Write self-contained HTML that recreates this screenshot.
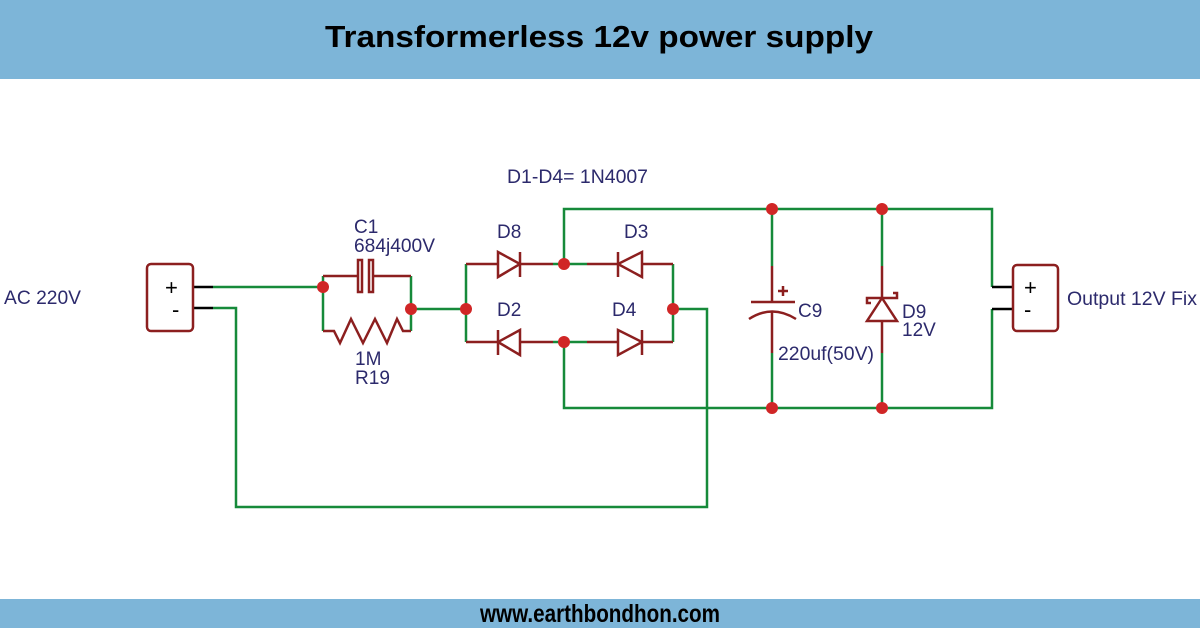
<!DOCTYPE html>
<html>
<head>
<meta charset="utf-8">
<style>
  html,body{margin:0;padding:0;background:#fff;}
  body{width:1200px;height:628px;overflow:hidden;}
  svg{display:block;}
  .lbl{font-family:"Liberation Sans",Arial,sans-serif;font-size:19px;fill:#2c2a6c;}
</style>
</head>
<body>
<svg width="1200" height="628" viewBox="0 0 1200 628" xmlns="http://www.w3.org/2000/svg">
  <!-- header / footer -->
  <rect x="0" y="0" width="1200" height="79" fill="#7db5d8"/>
  <rect x="0" y="599" width="1200" height="29" fill="#7db5d8"/>
  <text x="325" y="47" font-family="Liberation Sans, Arial, sans-serif" font-weight="bold" font-size="31" fill="#000" textLength="548" lengthAdjust="spacingAndGlyphs">Transformerless 12v power supply</text>
  <text x="480" y="622" font-family="Liberation Sans, Arial, sans-serif" font-weight="bold" font-size="25" fill="#000" textLength="240" lengthAdjust="spacingAndGlyphs">www.earthbondhon.com</text>

  <!-- green wires -->
  <g fill="none" stroke="#168a3a" stroke-width="2.5">
    <polyline points="213,287 323,287"/>
    <polyline points="213,308 236,308 236,507 707,507 707,309 673,309"/>
    <polyline points="323,276 323,331"/>
    <polyline points="411,276 411,331"/>
    <polyline points="411,309 466,309"/>
    <polyline points="466,264 466,342"/>
    <polyline points="553,264 587,264"/>
    <polyline points="553,342 587,342"/>
    <polyline points="673,264 673,342"/>
    <polyline points="564,264 564,209 992,209 992,287"/>
    <polyline points="564,342 564,408 992,408 992,309"/>
    <polyline points="772,209 772,266"/>
    <polyline points="772,353 772,408"/>
    <polyline points="882,209 882,266"/>
    <polyline points="882,353 882,408"/>
  </g>

  <!-- black leads -->
  <g stroke="#000" stroke-width="2.5">
    <line x1="193" y1="287" x2="213" y2="287"/>
    <line x1="193" y1="308" x2="213" y2="308"/>
    <line x1="992" y1="287" x2="1013" y2="287"/>
    <line x1="992" y1="309" x2="1013" y2="309"/>
  </g>

  <!-- connector boxes -->
  <g fill="none" stroke="#8c1f1f" stroke-width="2.5">
    <rect x="147" y="264" width="46" height="67" rx="4"/>
    <rect x="1013" y="265" width="45" height="66" rx="4"/>
  </g>
  <g font-family="Liberation Sans, Arial, sans-serif" font-size="22" fill="#000">
    <text x="165" y="295">+</text>
    <text x="172" y="317">-</text>
    <text x="1024" y="295">+</text>
    <text x="1024" y="317">-</text>
  </g>

  <!-- component parts (red) -->
  <g fill="none" stroke="#8c1f1f" stroke-width="2.5">
    <!-- C1 -->
    <polyline points="323,276 358,276"/>
    <polyline points="374,276 411,276"/>
    <rect x="358" y="260" width="4" height="32"/>
    <rect x="369" y="260" width="4" height="32"/>
    <!-- R19 -->
    <polyline points="323,331 334,331 340,343 351,319 363,343 375,319 387,343 397,319 403,331 411,331"/>
    <!-- bridge top row -->
    <polyline points="466,264 498,264"/>
    <polygon points="498,252 498,277 520,264"/>
    <line x1="520" y1="252" x2="520" y2="277"/>
    <polyline points="520,264 553,264"/>
    <polyline points="587,264 618,264"/>
    <polygon points="642,252 642,277 618,264"/>
    <line x1="618" y1="252" x2="618" y2="277"/>
    <polyline points="642,264 673,264"/>
    <!-- bridge bottom row -->
    <polyline points="466,342 498,342"/>
    <polygon points="520,330 520,355 498,342"/>
    <line x1="498" y1="330" x2="498" y2="355"/>
    <polyline points="520,342 553,342"/>
    <polyline points="587,342 618,342"/>
    <polygon points="618,330 618,355 642,342"/>
    <line x1="642" y1="330" x2="642" y2="355"/>
    <polyline points="642,342 673,342"/>
    <!-- C9 -->
    <line x1="772" y1="266" x2="772" y2="302"/>
    <line x1="751" y1="302" x2="795" y2="302"/>
    <path d="M749,319 Q772,304 796,319"/>
    <line x1="772" y1="312" x2="772" y2="353"/>
    <line x1="778" y1="291" x2="788" y2="291"/>
    <line x1="783" y1="286" x2="783" y2="296"/>
    <!-- D9 zener -->
    <line x1="882" y1="266" x2="882" y2="298"/>
    <polygon points="882,298 867,321 897,321"/>
    <polyline points="871,303 867,303 867,298 897,298 897,293 893,293"/>
    <line x1="882" y1="321" x2="882" y2="353"/>
  </g>

  <!-- nodes -->
  <g fill="#d02626">
    <circle cx="323" cy="287" r="6"/>
    <circle cx="411" cy="309" r="6"/>
    <circle cx="466" cy="309" r="6"/>
    <circle cx="564" cy="264" r="6"/>
    <circle cx="673" cy="309" r="6"/>
    <circle cx="564" cy="342" r="6"/>
    <circle cx="772" cy="209" r="6"/>
    <circle cx="882" cy="209" r="6"/>
    <circle cx="772" cy="408" r="6"/>
    <circle cx="882" cy="408" r="6"/>
  </g>

  <!-- labels -->
  <text class="lbl" x="4" y="304" textLength="77" lengthAdjust="spacingAndGlyphs">AC 220V</text>
  <text class="lbl" x="354" y="233">C1</text>
  <text class="lbl" x="354" y="252" textLength="81" lengthAdjust="spacingAndGlyphs">684j400V</text>
  <text class="lbl" x="355" y="365">1M</text>
  <text class="lbl" x="355" y="384" textLength="35" lengthAdjust="spacingAndGlyphs">R19</text>
  <text class="lbl" x="507" y="183" textLength="141" lengthAdjust="spacingAndGlyphs">D1-D4= 1N4007</text>
  <text class="lbl" x="497" y="238">D8</text>
  <text class="lbl" x="624" y="238">D3</text>
  <text class="lbl" x="497" y="316">D2</text>
  <text class="lbl" x="612" y="316">D4</text>
  <text class="lbl" x="798" y="317">C9</text>
  <text class="lbl" x="778" y="360" textLength="96" lengthAdjust="spacingAndGlyphs">220uf(50V)</text>
  <text class="lbl" x="902" y="318">D9</text>
  <text class="lbl" x="902" y="336">12V</text>
  <text class="lbl" x="1067" y="305" textLength="130" lengthAdjust="spacingAndGlyphs">Output 12V Fix</text>
</svg>
</body>
</html>
